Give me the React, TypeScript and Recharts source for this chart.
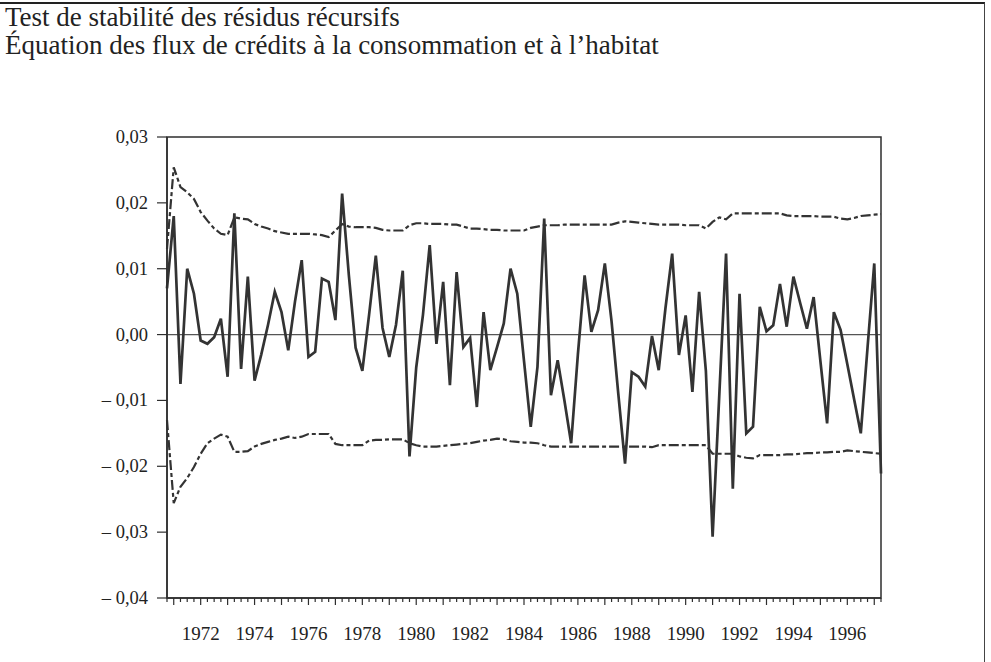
import React from "react";
import { LineChart, Line, XAxis, YAxis, ReferenceLine, ReferenceArea } from "recharts";

const START_YEAR = 1970;
const START_QUARTER = 4;

const residus = [
  0.007, 0.018, -0.0075, 0.01, 0.0062, -0.0009, -0.0014, -0.0004, 0.0024, -0.0064,
  0.0184, -0.0052, 0.0088, -0.007, -0.003, 0.0015, 0.0065, 0.0034, -0.0024, 0.005,
  0.0113, -0.0034, -0.0026, 0.0085, 0.008, 0.0022, 0.0214, 0.009, -0.002, -0.0055,
  0.003, 0.012, 0.001, -0.0034, 0.0015, 0.0097, -0.0185, -0.005, 0.003, 0.0136,
  -0.0014, 0.008, -0.0077, 0.0095, -0.0019, -0.0005, -0.011, 0.0034, -0.0054, -0.0019,
  0.0017, 0.01, 0.0062, -0.004, -0.014, -0.0049, 0.0176, -0.0092, -0.0039, -0.01,
  -0.0165, -0.003, 0.009, 0.0004, 0.0037, 0.0108, 0.002, -0.009, -0.0196, -0.0057,
  -0.0064, -0.0079, -0.0002, -0.0054, 0.004, 0.0123, -0.0031, 0.0029, -0.0087, 0.0065,
  -0.0055, -0.0307, -0.009, 0.0123, -0.0234, 0.0062, -0.015, -0.014, 0.0042, 0.0005,
  0.0014, 0.0077, 0.0012, 0.0088, 0.0048, 0.0009, 0.0057, -0.004, -0.0135, 0.0034,
  0.0007, -0.0045, -0.0098, -0.015, -0.002, 0.0108, -0.0211,
];

const borneHaute = [
  0.013, 0.0254, 0.0224, 0.0216, 0.0206, 0.0186, 0.0173, 0.0161, 0.0153, 0.0151,
  0.0178, 0.0176, 0.0175, 0.0168, 0.0164, 0.0161, 0.0157, 0.0155, 0.0153, 0.0153,
  0.0153, 0.0153, 0.0152, 0.0151, 0.0148, 0.0158, 0.0168, 0.0164, 0.0163, 0.0163,
  0.0163, 0.0162, 0.0159, 0.0158, 0.0158, 0.0158, 0.0166, 0.0169, 0.0169, 0.0168,
  0.0168, 0.0168, 0.0167, 0.0167, 0.0164, 0.0161, 0.0161, 0.016, 0.0159, 0.0159,
  0.0158, 0.0158, 0.0158, 0.0158, 0.0162, 0.0164, 0.0166, 0.0166, 0.0166, 0.0167,
  0.0167, 0.0167, 0.0167, 0.0167, 0.0167, 0.0167, 0.0167, 0.017, 0.0172, 0.0171,
  0.017, 0.0169, 0.0168, 0.0167, 0.0167, 0.0167, 0.0167, 0.0166, 0.0166, 0.0166,
  0.0161, 0.0171, 0.0178, 0.0175, 0.0184, 0.0184, 0.0184, 0.0184, 0.0184, 0.0184,
  0.0184, 0.0184, 0.0181, 0.018, 0.018, 0.018, 0.018, 0.0179, 0.0179, 0.0179,
  0.0176, 0.0175, 0.0177, 0.018, 0.0181, 0.0182, 0.0183,
];

const borneBasse = [
  -0.013, -0.0256, -0.0231, -0.0218, -0.0201, -0.0181, -0.0165, -0.0158, -0.0152, -0.0155,
  -0.0178, -0.0178, -0.0177, -0.017, -0.0166, -0.0163, -0.016, -0.0158, -0.0155, -0.0157,
  -0.0155, -0.0151, -0.0151, -0.0151, -0.0151, -0.0166, -0.0168, -0.0168, -0.0168, -0.0168,
  -0.0161, -0.016, -0.016, -0.0159, -0.0159, -0.0159, -0.0165, -0.0168, -0.017, -0.017,
  -0.017, -0.0169, -0.0168, -0.0167, -0.0166, -0.0165, -0.0163, -0.0161, -0.016, -0.0158,
  -0.0159, -0.0162, -0.0163, -0.0164, -0.0164, -0.0165, -0.0168, -0.017, -0.017, -0.017,
  -0.017, -0.017, -0.017, -0.017, -0.017, -0.017, -0.017, -0.017, -0.017, -0.017,
  -0.017, -0.017, -0.0171, -0.0168, -0.0168, -0.0168, -0.0168, -0.0168, -0.0168, -0.0168,
  -0.0168, -0.0181, -0.0181, -0.0181, -0.0181, -0.0185, -0.0187, -0.0188, -0.0183, -0.0183,
  -0.0183, -0.0183, -0.0182, -0.0182, -0.0181, -0.018, -0.018, -0.0179, -0.0179, -0.0178,
  -0.0178, -0.0176, -0.0177, -0.0178, -0.0179, -0.018, -0.0181,
];

const yearLabels = [1972, 1974, 1976, 1978, 1980, 1982, 1984, 1986, 1988, 1990, 1992, 1994, 1996];
const yTicks = [-0.04, -0.03, -0.02, -0.01, 0, 0.01, 0.02, 0.03];

const title1 = "Test de stabilité des résidus récursifs";
const title2 = "Équation des flux de crédits à la consommation et à l’habitat";

const t0 = START_YEAR + (START_QUARTER - 1) / 4;
const data = residus.map((r, i) => ({
  t: t0 + i / 4,
  resid: r,
  upper: borneHaute[i],
  lower: borneBasse[i],
}));
const tEnd = data[data.length - 1].t;
const quarterTicks = data.map((d) => d.t);

const FONT = "'Liberation Serif', 'Times New Roman', serif";
const INK = "#2e2e2e";

const fmtY = (v: number) => {
  const s = Math.abs(v).toFixed(2).replace(".", ",");
  return v < -1e-9 ? "– " + s : s;
};

const XTick = (props: any) => {
  const { x, y, payload } = props;
  const v = payload.value as number;
  const isYear = Math.abs(v - Math.round(v)) < 1e-6;
  const year = Math.round(v);
  return (
    <g>
      <line x1={x} x2={x} y1={y} y2={y + (isYear ? 7 : 4)} stroke={INK} strokeWidth={1.2} />
      {isYear && yearLabels.includes(year) && (
        <text x={x} y={y + 42} textAnchor="middle" style={{ fontFamily: FONT, fontSize: 19 }} fill="#222">
          {year}
        </text>
      )}
    </g>
  );
};

const YTick = (props: any) => {
  const { x, y, payload } = props;
  return (
    <text x={x} y={y} dy={6} textAnchor="end" style={{ fontFamily: FONT, fontSize: 18.5 }} fill="#222">
      {fmtY(payload.value)}
    </text>
  );
};

export default function App() {
  return (
    <div style={{ position: "absolute", left: 0, top: 0, width: 991, height: 662, background: "#fff", overflow: "hidden" }}>
      <div
        style={{
          position: "absolute",
          left: -2,
          top: 2,
          width: 987,
          height: 700,
          borderTop: "2px solid #222",
          borderRight: "1.5px solid #444",
          boxSizing: "border-box",
        }}
      />
      <div style={{ position: "absolute", left: 5, top: 3, fontFamily: FONT, fontSize: 27, color: "#222", lineHeight: "28px", whiteSpace: "nowrap" }}>
        <div>{title1}</div>
        <div>{title2}</div>
      </div>
      <div style={{ position: "absolute", left: 0, top: 0 }}>
        <LineChart width={991} height={662} data={data} margin={{ top: 137, right: 110, bottom: 24, left: 0 }}>
          <XAxis
            dataKey="t"
            type="number"
            domain={[t0, tEnd]}
            ticks={quarterTicks}
            interval={0}
            tick={<XTick />}
            tickLine={false}
            tickSize={0}
            tickMargin={0}
            height={40}
            axisLine={{ stroke: INK, strokeWidth: 1.5 }}
          />
          <YAxis
            type="number"
            domain={[-0.04, 0.03]}
            ticks={yTicks}
            interval={0}
            width={167}
            tickSize={10}
            tickMargin={9}
            tick={<YTick />}
            tickLine={{ stroke: INK, strokeWidth: 1.2 }}
            axisLine={{ stroke: INK, strokeWidth: 1.5 }}
          />
          <ReferenceArea x1={t0} x2={tEnd} y1={-0.04} y2={0.03} fill="none" fillOpacity={0} stroke={INK} strokeWidth={1.5} ifOverflow="extendDomain" />
          <ReferenceLine y={0} stroke="#555" strokeWidth={1.2} />
          <Line type="linear" dataKey="upper" stroke="#333" strokeWidth={2.2} strokeDasharray="10 3 4 3" dot={false} isAnimationActive={false} />
          <Line type="linear" dataKey="lower" stroke="#333" strokeWidth={2.2} strokeDasharray="10 3 4 3" dot={false} isAnimationActive={false} />
          <Line type="linear" dataKey="resid" stroke="#333" strokeWidth={2.7} dot={false} isAnimationActive={false} />
        </LineChart>
      </div>
    </div>
  );
}
